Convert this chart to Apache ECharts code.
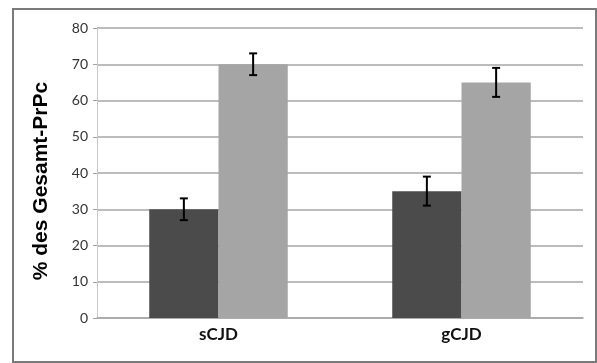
<!DOCTYPE html>
<html><head><meta charset="utf-8">
<script src="https://cdn.jsdelivr.net/npm/echarts@6/dist/echarts.min.js"></script>
<style>html,body{margin:0;padding:0;background:#fff}#c{width:597px;height:363px}</style>
</head><body><div id="c"></div>
<script>
const categories = ['sCJD', 'gCJD'];
const darkValues = [30, 35];
const darkErrLow = [27, 31];
const darkErrHigh = [33, 39];
const lightValues = [70, 65];
const lightErrLow = [67, 61];
const lightErrHigh = [73, 69];
const yTicks = [0, 10, 20, 30, 40, 50, 60, 70, 80];

const chart = echarts.init(document.getElementById('c'));
const barGapCat = '43%';

function errSeries(idx, lows, highs) {
  return {
    type: 'custom',
    z: 10,
    data: categories.map((c, i) => [i, lows[i], highs[i]]),
    renderItem: function (params, api) {
      const i = api.value(0);
      const lowP = api.coord([i, api.value(1)]);
      const highP = api.coord([i, api.value(2)]);
      const bandW = api.size([1, 0])[0];
      const barW = bandW * (1 - 0.43) / 2;
      const cx = lowP[0] + (idx === 0 ? -barW / 2 : barW / 2);
      const cap = 4;
      const st = { stroke: '#000', lineWidth: 2 };
      return {
        type: 'group',
        children: [
          { type: 'line', shape: { x1: cx, y1: lowP[1], x2: cx, y2: highP[1] }, style: st },
          { type: 'line', shape: { x1: cx - cap, y1: lowP[1], x2: cx + cap, y2: lowP[1] }, style: st },
          { type: 'line', shape: { x1: cx - cap, y1: highP[1], x2: cx + cap, y2: highP[1] }, style: st }
        ]
      };
    }
  };
}

chart.setOption({
  animation: false,
  backgroundColor: '#fff',
  graphic: [{
    type: 'rect', shape: { x: 13, y: 9, width: 583, height: 353 },
    style: { fill: 'none', stroke: '#7a7a7a', lineWidth: 2 }, silent: true
  }],
  grid: { left: 97, right: 14, top: 28, bottom: 45 },
  xAxis: {
    type: 'category', data: categories,
    axisLine: { lineStyle: { color: '#a6a6a6', width: 1.5 } },
    axisTick: { show: false },
    axisLabel: { color: '#111', fontSize: 17, fontWeight: 'bold', fontFamily: 'Lato', margin: 8 }
  },
  yAxis: {
    type: 'value', min: 0, max: 80, interval: 10,
    name: '% des Gesamt-PrPc', nameLocation: 'middle', nameGap: 45,
    nameTextStyle: { color: '#000', fontSize: 21, fontWeight: 'bold', fontFamily: 'Liberation Sans',
      padding: [0, 16, 0, 0] },
    axisLine: { show: true, lineStyle: { color: '#c8c8c8' } },
    axisTick: { show: true, length: 4, lineStyle: { color: '#a0a0a0' } },
    axisLabel: { color: '#333', fontSize: 14, fontFamily: 'Lato', margin: 9,
      formatter: v => yTicks.includes(v) ? String(v) : '' },
    splitLine: { lineStyle: { color: '#a6a6a6', width: 1.5 } }
  },
  series: [
    { type: 'bar', data: darkValues, barGap: '0%', barCategoryGap: barGapCat,
      itemStyle: { color: '#4b4b4b' } },
    { type: 'bar', data: lightValues, barGap: '0%', barCategoryGap: barGapCat,
      itemStyle: { color: '#a5a5a5' } },
    errSeries(0, darkErrLow, darkErrHigh),
    errSeries(1, lightErrLow, lightErrHigh)
  ]
});
</script></body></html>
